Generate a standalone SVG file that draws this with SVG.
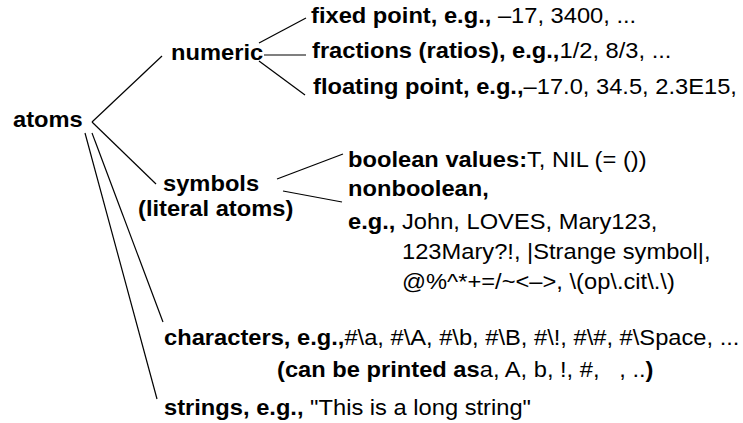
<svg xmlns="http://www.w3.org/2000/svg" width="743" height="423" viewBox="0 0 743 423">
<style>
text{font-family:"Liberation Sans",Arial,Helvetica,sans-serif;font-size:22.4px;fill:#000;white-space:pre}
.b{font-weight:bold}
.r{font-weight:normal}
#connectors line{stroke:#000;stroke-width:1.2;fill:none}
</style>
<rect width="743" height="423" fill="#fff"/>
<g id="connectors">
<line x1="92" y1="122" x2="162" y2="56"/>
<line x1="259" y1="43" x2="306" y2="18"/>
<line x1="264" y1="55" x2="306" y2="55"/>
<line x1="259" y1="61" x2="305" y2="95"/>
<line x1="92" y1="122" x2="156" y2="184"/>
<line x1="277" y1="179" x2="343" y2="154"/>
<line x1="283" y1="191" x2="342" y2="202"/>
<line x1="92" y1="133" x2="163" y2="322"/>
<line x1="85" y1="133" x2="157" y2="399"/>
</g>
<g id="atoms"><text class="b" transform="translate(13,127) scale(1.058,1)">atoms</text></g>
<g id="numeric"><text class="b" transform="translate(171,60) scale(1.058,1)">numeric</text></g>
<g id="fixed"><text transform="translate(311,23) scale(1.058,1)"><tspan class="b">fixed point, e.g.,</tspan><tspan class="r"> –17, 3400, ...</tspan></text></g>
<g id="fractions"><text transform="translate(312,58) scale(1.058,1)"><tspan class="b">fractions (ratios), e.g.,</tspan><tspan class="r">1/2, 8/3, ...</tspan></text></g>
<g id="floating"><text transform="translate(313,94) scale(1.058,1)"><tspan class="b">floating point, e.g.,</tspan><tspan class="r">–17.0, 34.5, 2.3E15,</tspan></text></g>
<g id="symbols">
<text class="b" transform="translate(163,191) scale(1.058,1)">symbols</text>
<text class="b" transform="translate(138,216) scale(1.058,1)">(literal atoms)</text>
</g>
<g id="boolean"><text transform="translate(348,167) scale(1.058,1)"><tspan class="b">boolean values:</tspan><tspan class="r">T, NIL (= ())</tspan></text></g>
<g id="nonboolean">
<text class="b" transform="translate(348,196) scale(1.058,1)">nonboolean,</text>
<text transform="translate(348,229) scale(1.058,1)"><tspan class="b">e.g.,</tspan><tspan class="r"> John, LOVES, Mary123,</tspan></text>
<text class="r" transform="translate(402,259) scale(1.058,1)">123Mary?!, |Strange symbol|,</text>
<text class="r" transform="translate(402,289) scale(1.058,1)">@%^*+=/~&lt;–&gt;, \(op\.cit\.\)</text>
</g>
<g id="characters">
<text transform="translate(164,345) scale(1.058,1)"><tspan class="b">characters, e.g.,</tspan><tspan class="r">#\a, #\A, #\b, #\B, #\!, #\#, #\Space, ...</tspan></text>
<text transform="translate(277,377) scale(1.058,1)"><tspan class="b">(can be printed as</tspan><tspan class="r">a, A, b, !, #,   , ..</tspan><tspan class="b">)</tspan></text>
</g>
<g id="strings"><text transform="translate(164,415) scale(1.058,1)"><tspan class="b">strings, e.g.,</tspan><tspan class="r"> "This is a long string"</tspan></text></g>
</svg>
